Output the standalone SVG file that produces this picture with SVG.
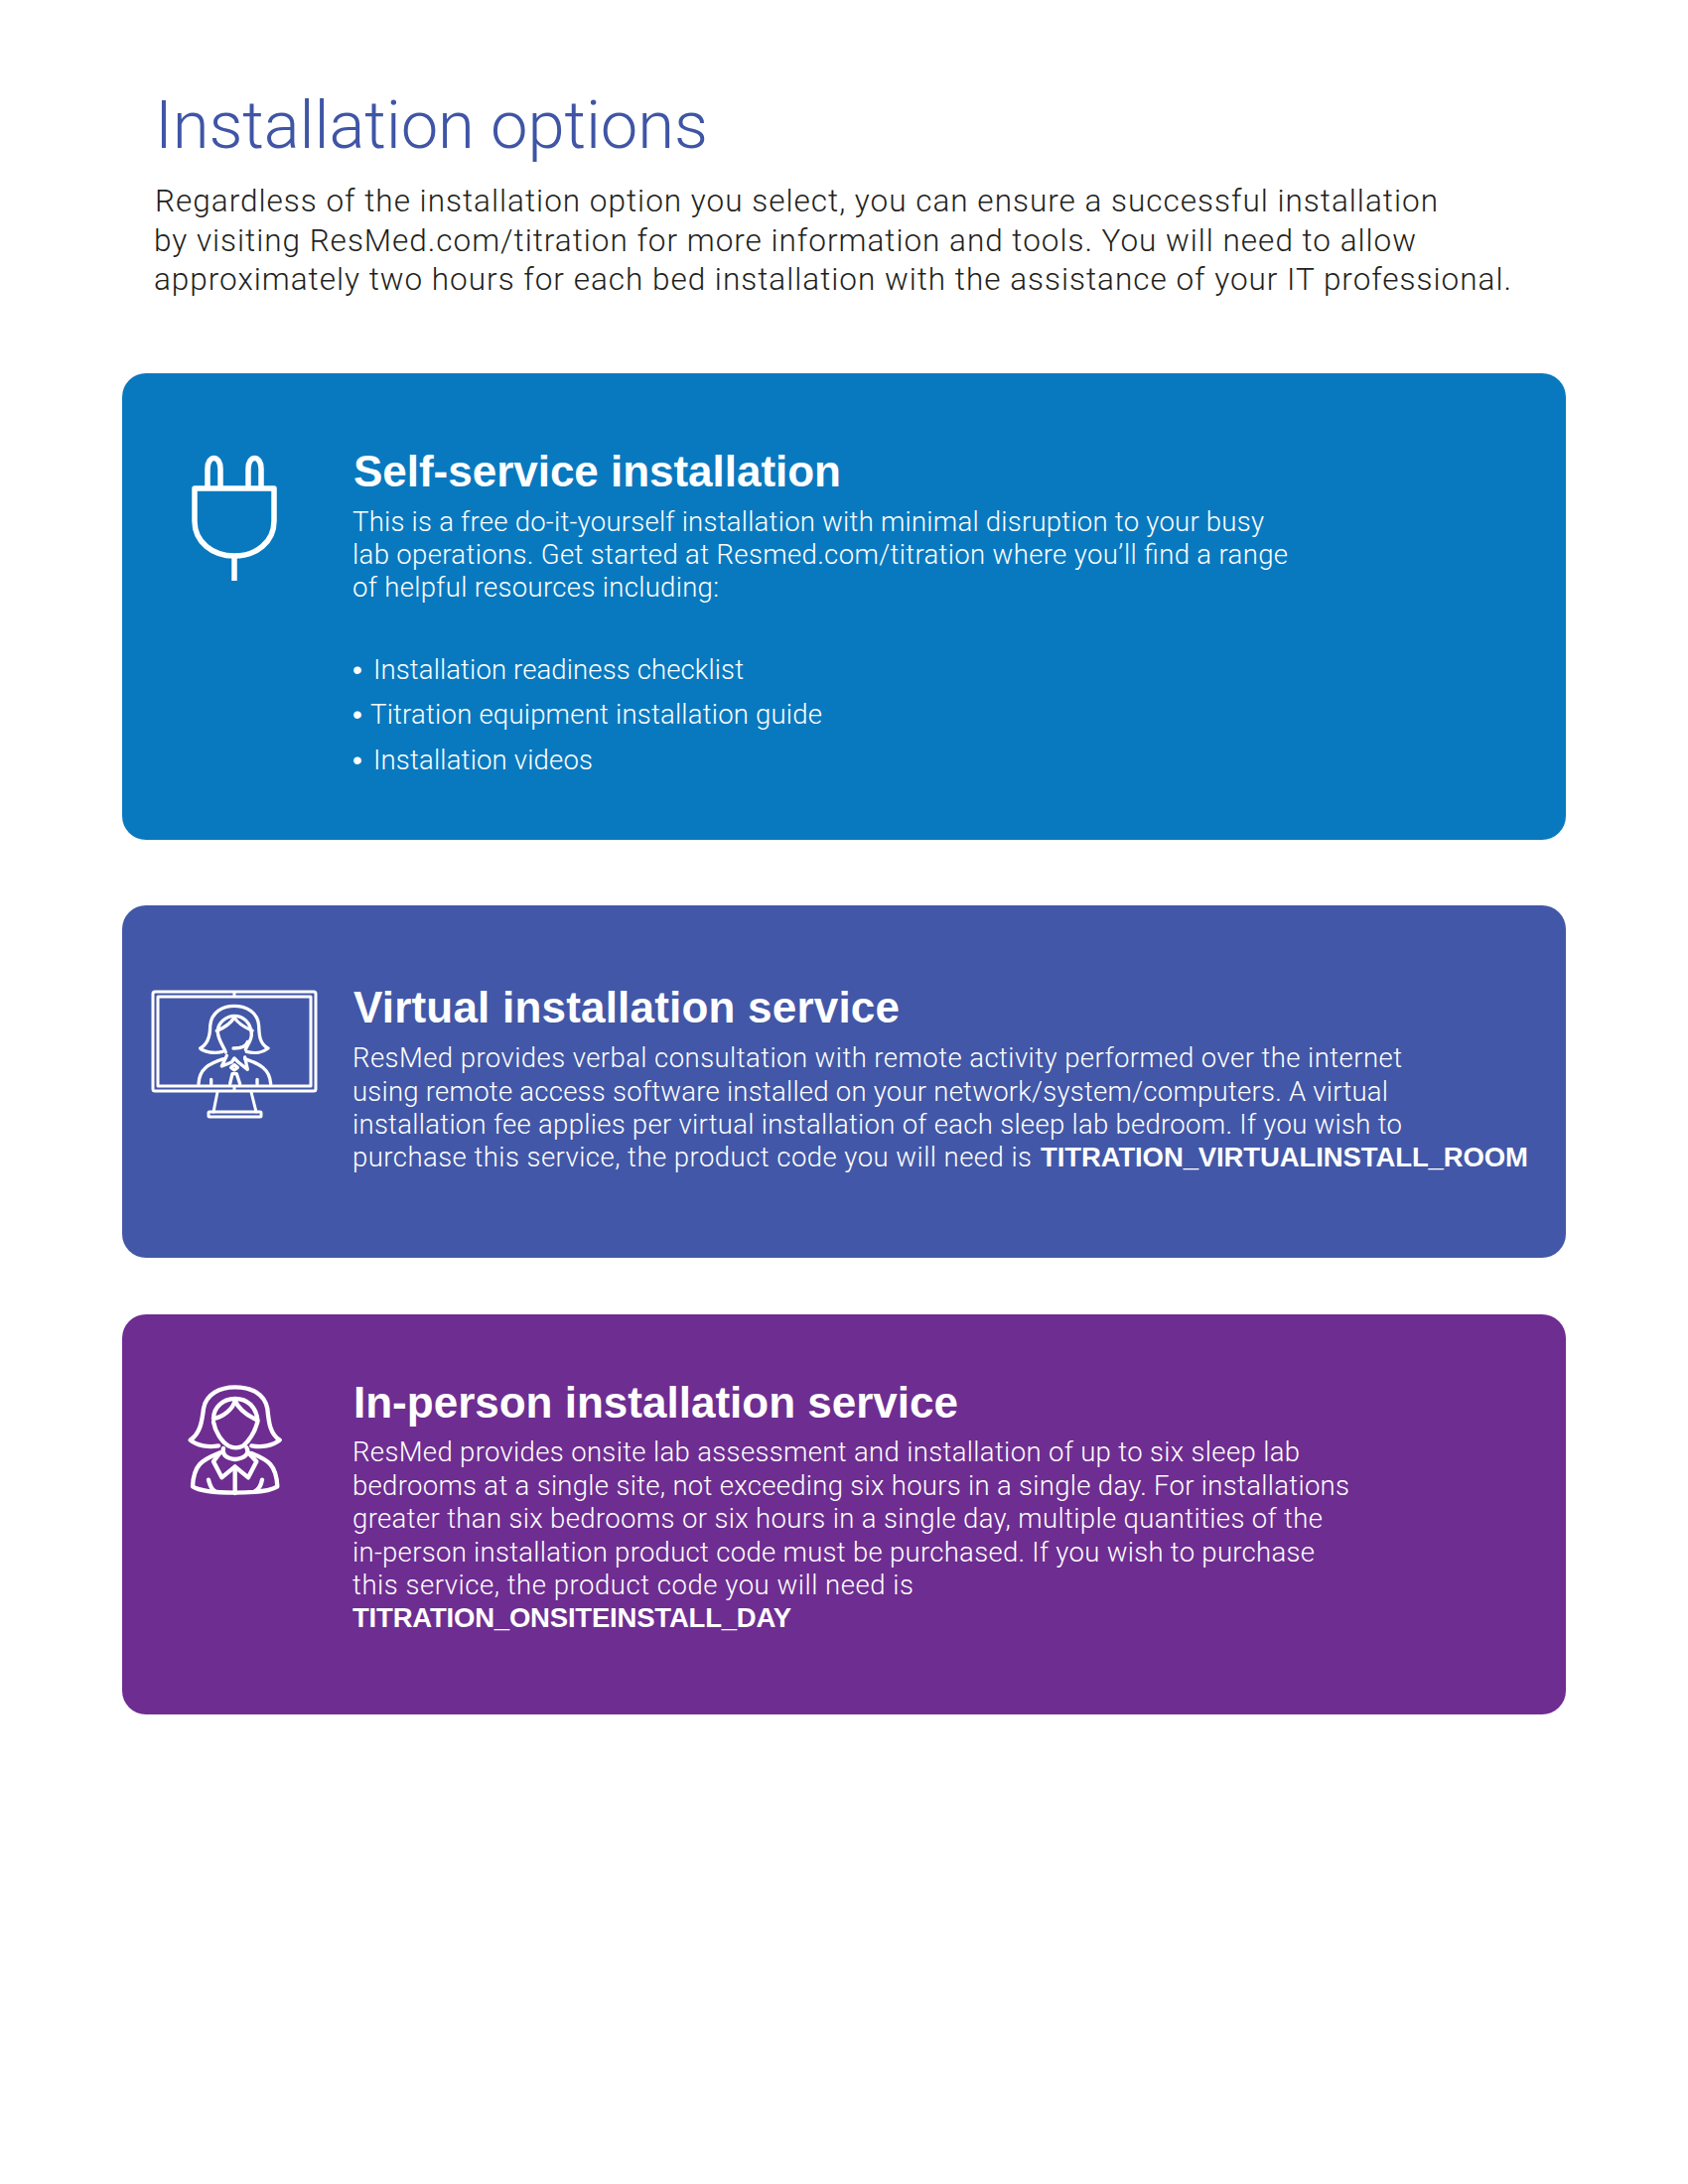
<svg xmlns="http://www.w3.org/2000/svg" width="1700" height="2200" viewBox="0 0 1700 2200">
<style>
text{font-family:"Roboto","Liberation Sans",sans-serif;font-weight:300}
.intro{font-size:31.5px;fill:#231f20}
.t{font-size:67px;fill:#3f55a5}
.h{font-family:"Liberation Sans",Arial,sans-serif;font-weight:700;font-size:44px;fill:#fff}
.b{font-size:27.5px;fill:#fff}
.d{font-family:"Liberation Sans",Arial,sans-serif;font-size:28px;fill:#fff}
.c{font-family:"Liberation Sans",Arial,sans-serif;font-weight:700;font-size:27.5px;fill:#fff}
.i{fill:none;stroke:#fff;stroke-linejoin:round;stroke-linecap:round}
</style>
<rect width="1700" height="2200" fill="#fff"/>
<g id="header">
<text class="t" x="156" y="149" textLength="557" lengthAdjust="spacing">Installation options</text>
<text class="intro" x="156" y="213" textLength="1292" lengthAdjust="spacing">Regardless of the installation option you select, you can ensure a successful installation</text>
<text class="intro" x="155" y="253" textLength="1271" lengthAdjust="spacing">by visiting ResMed.com/titration for more information and tools. You will need to allow</text>
<text class="intro" x="155" y="292" textLength="1367" lengthAdjust="spacing">approximately two hours for each bed installation with the assistance of your IT professional.</text>
</g>
<g id="card-self-service">
<rect x="123" y="376" width="1454" height="470" rx="24" fill="#0979bf"/>
<g class="i" stroke-width="5.5">
<path d="M196 492H276V525C276 546 258 560 236 560C214 560 196 546 196 525Z" stroke-linecap="butt"/>
<path d="M209 490V472C209 458 222 458 222 472V490" stroke-linecap="butt"/>
<path d="M250 490V472C250 458 263 458 263 472V490" stroke-linecap="butt"/>
<path d="M236 560V585" stroke-linecap="butt"/>
</g>
<text class="h" x="356" y="490" textLength="491" lengthAdjust="spacing">Self-service installation</text>
<text class="b" x="355" y="535" textLength="918" lengthAdjust="spacing">This is a free do-it-yourself installation with minimal disruption to your busy</text>
<text class="b" x="355" y="568" textLength="942" lengthAdjust="spacing">lab operations. Get started at Resmed.com/titration where you’ll find a range</text>
<text class="b" x="355" y="601" textLength="369" lengthAdjust="spacing">of helpful resources including:</text>
<text class="d" x="355" y="684">•</text>
<text class="b" x="376" y="684" textLength="373" lengthAdjust="spacing">Installation readiness checklist</text>
<text class="d" x="355" y="729">•</text>
<text class="b" x="373" y="729" textLength="455" lengthAdjust="spacing">Titration equipment installation guide</text>
<text class="d" x="355" y="775">•</text>
<text class="b" x="376" y="775" textLength="221" lengthAdjust="spacing">Installation videos</text>
</g>
<g id="card-virtual">
<rect x="123" y="912" width="1454" height="355" rx="24" fill="#4257a7"/>
<g class="i" stroke-width="3">
<rect x="154" y="999" width="164" height="100" rx="2"/>
<rect x="159" y="1004" width="154" height="90"/>
<path d="M236 1000V1003M236 1095V1098"/>
<path d="M219 1100L215 1120M253 1100L258 1120"/>
<rect x="210" y="1120" width="53" height="5" rx="1"/>
<g transform="translate(130 970) scale(.33333)" stroke-width="10">
<path d="M282 268C255 275 225 268 215 258C240 245 245 220 245 190C248 150 280 130 318 130C355 130 390 150 392 190C393 220 395 245 420 258C405 270 380 275 355 268"/>
<path d="M268 205C268 180 295 160 318 160C345 160 368 180 370 215"/>
<path d="M318 165C305 185 290 195 265 205M318 165C330 185 350 195 372 205"/>
<path d="M268 210C270 235 285 250 292 270M370 215C370 235 358 245 352 262"/>
<path d="M358 238C355 250 340 258 315 258"/>
<path d="M295 280L280 312L310 300L318 288L330 300L358 322L350 285"/>
<path d="M210 365C212 320 240 305 285 290M428 365C425 320 395 305 350 290"/>
<path d="M318 308L328 316L318 324L308 316Z"/>
<path d="M305 365L312 335H325L335 365"/>
<path d="M248 365V352M387 365V352"/>
</g>
</g>
<text class="h" x="356" y="1030" textLength="550" lengthAdjust="spacing">Virtual installation service</text>
<text class="b" x="355" y="1075" textLength="1057" lengthAdjust="spacing">ResMed provides verbal consultation with remote activity performed over the internet</text>
<text class="b" x="355" y="1109" textLength="1043" lengthAdjust="spacing">using remote access software installed on your network/system/computers. A virtual</text>
<text class="b" x="355" y="1142" textLength="1057" lengthAdjust="spacing">installation fee applies per virtual installation of each sleep lab bedroom. If you wish to</text>
<text class="b" x="355" y="1175" textLength="684" lengthAdjust="spacing">purchase this service, the product code you will need is</text>
<text class="c" x="1048" y="1175" textLength="491" lengthAdjust="spacing">TITRATION_VIRTUALINSTALL_ROOM</text>
</g>
<g id="card-in-person">
<rect x="123" y="1324" width="1454" height="403" rx="24" fill="#6e2d91"/>
<g class="i" transform="translate(170 1369) scale(.33333)" stroke-width="13">
<path d="M150 262C120 268 85 262 65 245C95 225 100 190 105 150C112 105 155 85 200 85C250 85 290 105 298 150C302 190 305 225 335 245C315 262 280 268 250 262"/>
<path d="M135 180C135 145 165 120 200 120C238 120 265 145 268 185"/>
<path d="M200 125C195 150 165 175 135 180M200 125C210 150 235 170 268 185"/>
<path d="M135 190C140 220 160 250 180 262C195 270 210 270 225 262C245 245 260 220 268 190"/>
<path d="M165 270C160 285 170 300 200 303C230 300 245 285 235 268"/>
<path d="M155 283L135 310L160 358L200 325L240 358L265 310L240 283"/>
<path d="M150 285C100 305 75 320 72 385C110 410 290 410 328 385C325 320 300 305 250 285"/>
<path d="M200 335V405"/>
<path d="M120 365C125 385 130 395 140 400M282 365C278 385 270 395 260 400"/>
</g>
<text class="h" x="356" y="1428" textLength="609" lengthAdjust="spacing">In-person installation service</text>
<text class="b" x="355" y="1472" textLength="954" lengthAdjust="spacing">ResMed provides onsite lab assessment and installation of up to six sleep lab</text>
<text class="b" x="355" y="1506" textLength="1004" lengthAdjust="spacing">bedrooms at a single site, not exceeding six hours in a single day. For installations</text>
<text class="b" x="355" y="1539" textLength="977" lengthAdjust="spacing">greater than six bedrooms or six hours in a single day, multiple quantities of the</text>
<text class="b" x="355" y="1573" textLength="969" lengthAdjust="spacing">in-person installation product code must be purchased. If you wish to purchase</text>
<text class="b" x="355" y="1606" textLength="565" lengthAdjust="spacing">this service, the product code you will need is</text>
<text class="c" x="355" y="1639" textLength="442" lengthAdjust="spacing">TITRATION_ONSITEINSTALL_DAY</text>
</g>
</svg>
